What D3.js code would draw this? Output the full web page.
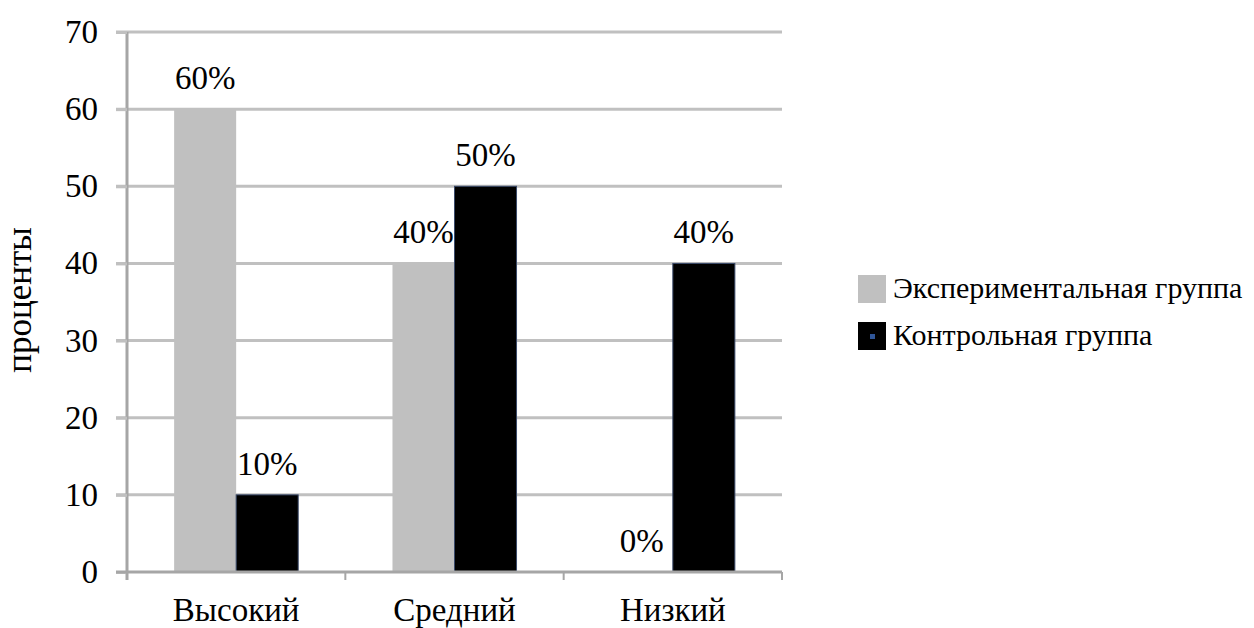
<!DOCTYPE html>
<html>
<head>
<meta charset="utf-8">
<script src="https://cdn.jsdelivr.net/npm/d3@7"></script>
<style>
  body { margin: 0; background: #fff; }
  #chart text { font-family: 'Liberation Serif', 'Times New Roman', serif !important; }
</style>
</head>
<body>
<svg id="chart" width="1254" height="628"></svg>
<script>
const categories = ['Высокий', 'Средний', 'Низкий'];
const seriesNames = ['Экспериментальная группа', 'Контрольная группа'];
const experimental = [60, 40, 0];
const control = [10, 50, 40];
const yTicks = [0, 10, 20, 30, 40, 50, 60, 70];
const colors = ['#c0c0c0', '#000000'];

const font = "'Liberation Serif', 'Times New Roman', serif";
const svg = d3.select('#chart');
const plotLeft = 127, plotRight = 782, plotTop = 32, plotBottom = 572;
const fontSize = 33;

function serif(sel, size) {
  sel.style('font-family', font, 'important')
    .style('font-size', size + 'px', 'important')
    .attr('fill', '#000');
}

const x0 = d3.scaleBand().domain(categories).range([plotLeft, plotRight]).padding(0);
const x1 = d3.scaleBand().domain([0, 1]).range([0, x0.bandwidth()]).paddingInner(0).paddingOuter(0.76);
const y = d3.scaleLinear().domain([0, 70]).range([plotBottom, plotTop]);

// gridlines
svg.append('g')
  .selectAll('line')
  .data(yTicks.slice(1))
  .join('line')
  .attr('x1', plotLeft - 11)
  .attr('x2', plotRight)
  .attr('y1', d => y(d))
  .attr('y2', d => y(d))
  .attr('stroke', '#c0c0c0')
  .attr('stroke-width', 3);

// bars
const rows = categories.map((c, i) => ({ cat: c, vals: [experimental[i], control[i]] }));
const group = svg.append('g')
  .selectAll('g')
  .data(rows)
  .join('g')
  .attr('transform', d => `translate(${x0(d.cat)},0)`);

group.selectAll('rect')
  .data(d => d.vals.map((v, k) => ({ v, k })))
  .join('rect')
  .attr('x', d => x1(d.k))
  .attr('width', x1.bandwidth())
  .attr('y', d => y(d.v))
  .attr('height', d => y(0) - y(d.v))
  .attr('fill', d => colors[d.k])
  .attr('stroke', d => d.k === 1 ? '#3a4a6a' : 'none')
  .attr('stroke-width', 1);

group.selectAll('text.val')
  .data(d => d.vals.map((v, k) => ({ v, k })))
  .join('text')
  .attr('class', 'val')
  .attr('x', d => x1(d.k) + x1.bandwidth() / 2)
  .attr('y', d => y(d.v) - 20)
  .attr('text-anchor', 'middle')
  .call(serif, fontSize)
  .text(d => d.v + '%');

// y axis
const yAxis = svg.append('g')
  .attr('transform', `translate(${plotLeft},0)`)
  .call(d3.axisLeft(y).tickValues(yTicks).tickSize(11).tickPadding(18));
yAxis.attr('font-family', null).attr('font-size', null);
yAxis.select('.domain').attr('stroke', '#a6a6a6').attr('stroke-width', 3)
  .attr('d', `M0,${plotTop}V${plotBottom + 8}`);
yAxis.selectAll('.tick line').attr('stroke', '#c0c0c0').attr('stroke-width', 3);
yAxis.selectAll('.tick text').call(serif, fontSize);

// x axis
const xAxis = svg.append('g')
  .attr('transform', `translate(0,${plotBottom})`)
  .call(d3.axisBottom(x0).tickSize(0).tickPadding(26));
xAxis.attr('font-family', null).attr('font-size', null);
xAxis.select('.domain').attr('stroke', '#a6a6a6').attr('stroke-width', 3)
  .attr('d', `M${plotLeft - 11},0H${plotRight}`);
xAxis.selectAll('.tick text').call(serif, fontSize);
svg.append('g')
  .selectAll('line')
  .data(categories.map(c => x0(c)).concat([plotRight]))
  .join('line')
  .attr('x1', d => d).attr('x2', d => d)
  .attr('y1', plotBottom).attr('y2', plotBottom + 8)
  .attr('stroke', '#a6a6a6').attr('stroke-width', 2);

// y title
svg.append('text')
  .attr('transform', `translate(31,${(plotTop + plotBottom) / 2 - 2}) rotate(-90)`)
  .attr('text-anchor', 'middle')
  .call(serif, fontSize + 2)
  .text('проценты');

// legend
const legend = svg.append('g')
  .selectAll('g')
  .data(seriesNames)
  .join('g')
  .attr('transform', (d, i) => `translate(858,${275 + i * 47})`);
legend.append('rect')
  .attr('width', 28).attr('height', 28)
  .attr('fill', (d, i) => colors[i]);
legend.filter((d, i) => i === 1).append('rect')
  .attr('x', 12).attr('y', 12).attr('width', 5).attr('height', 5)
  .attr('fill', '#2f5597');
const legendText = legend.append('text')
  .attr('x', 35).attr('y', 23)
  .call(serif, fontSize)
  .text(d => d);

// keep the legend inside the page
const widest = d3.max(legendText.nodes(), n => n.getComputedTextLength());
if (858 + 35 + widest > 1250) {
  legendText.call(serif, Math.floor(fontSize * (1250 - 893) / widest));
}
</script>
</body>
</html>
